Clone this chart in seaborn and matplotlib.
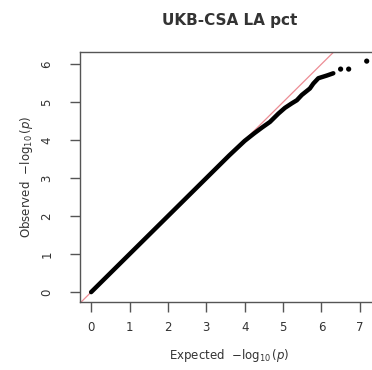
import matplotlib
matplotlib.use("Agg")
import matplotlib.pyplot as plt
import seaborn as sns
import pandas as pd

title = "UKB-CSA LA pct"
x_ticks = [0, 1, 2, 3, 4, 5, 6, 7]
y_ticks = [0, 1, 2, 3, 4, 5, 6]

# dense body of the QQ curve (expected vs observed -log10 p)
expected = [0.0, 1.0, 2.0, 3.0, 3.6, 4.0, 4.25, 4.45, 4.66, 4.88, 5.05, 5.23, 5.36, 5.49, 5.70, 5.79, 5.92, 6.14, 6.31]
observed = [0.0, 1.0, 2.0, 3.0, 3.6, 3.98, 4.18, 4.33, 4.48, 4.70, 4.85, 4.97, 5.05, 5.19, 5.36, 5.49, 5.63, 5.70, 5.76]
# isolated tail points
tail_expected = [6.50, 6.71, 7.18]
tail_observed = [5.87, 5.87, 6.08]

sns.set_theme(style="ticks")
plt.rcParams["font.family"] = ["DejaVu Sans"]
plt.rcParams["mathtext.fontset"] = "dejavusans"

fig = plt.figure(figsize=(3.72, 3.70), dpi=100)
ax = fig.add_axes([80 / 372, 68 / 370, 298.6 / 372, 250 / 370])

body = pd.DataFrame({"Expected": expected, "Observed": observed})
tail = pd.DataFrame({"Expected": tail_expected, "Observed": tail_observed})

ax.axline((0, 0), slope=1, color="#e8707a", lw=0.9, alpha=0.8, zorder=1)
sns.lineplot(data=body, x="Expected", y="Observed", ax=ax, color="black",
             lw=3.2, solid_capstyle="round", solid_joinstyle="round", sort=False, zorder=3)
sns.scatterplot(data=tail, x="Expected", y="Observed", ax=ax, color="black",
                s=14, edgecolor="none", zorder=3)

ax.set_xlim(-0.29, 7.49)
ax.set_ylim(-0.26, 6.32)
ax.set_xticks(x_ticks)
ax.set_yticks(y_ticks)
ax.set_yticklabels([str(v) for v in y_ticks], rotation=90, va="center")

for s in ["left", "bottom", "top", "right"]:
    ax.spines[s].set_visible(True)
    ax.spines[s].set_color("#555555")
    ax.spines[s].set_linewidth(1.0)
ax.tick_params(axis="both", direction="out", length=7, width=1.0, color="#555555",
               labelsize=8.5, labelcolor="#333333", pad=7)
ax.tick_params(axis="y", pad=12)

ax.set_xlabel(r"Expected  $-\log_{10}(p)$", fontsize=8.5, color="#333333", labelpad=9)
ax.set_ylabel(r"Observed  $-\log_{10}(p)$", fontsize=8.5, color="#333333", labelpad=4)
fig.text(230 / 372, 1 - 21 / 370, title, ha="center", va="center",
         fontsize=11, fontweight="bold", color="#333333")

fig.savefig("out.png", dpi=100)
